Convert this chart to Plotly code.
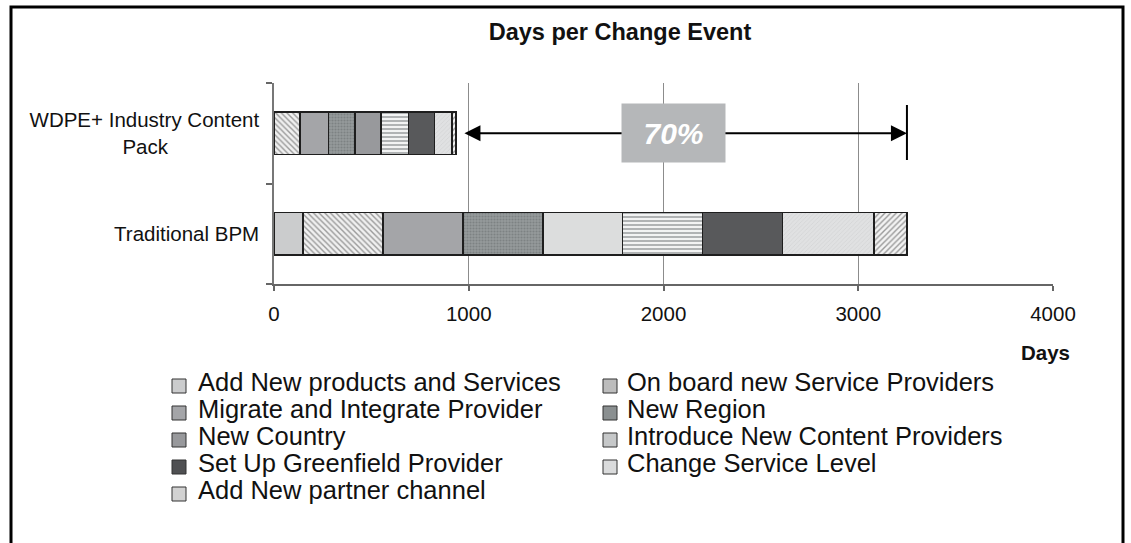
import plotly.graph_objects as go

# ---------------- data ----------------
categories = ["Traditional BPM", "WDPE+ Industry Content Pack"]
tick_labels = ["Traditional BPM", "WDPE+ Industry Content<br>Pack" + "\u00a0" * 16]

series_names = [
    "Add New products and Services",
    "On board new Service Providers",
    "Migrate and Integrate Provider",
    "New Region",
    "New Country",
    "Introduce New Content Providers",
    "Set Up Greenfield Provider",
    "Change Service Level",
    "Add New partner channel",
]
add_new_products = [150, 0]
on_board_providers = [410, 135]
migrate_integrate = [410, 145]
new_region = [410, 135]
new_country = [410, 135]
introduce_content = [410, 140]
greenfield_provider = [410, 135]
change_service_level = [470, 90]
add_partner_channel = [170, 20]
series_values = [add_new_products, on_board_providers, migrate_integrate, new_region,
                 new_country, introduce_content, greenfield_provider,
                 change_service_level, add_partner_channel]

x_ticks = [0, 1000, 2000, 3000, 4000]
reduction_label = "70%"
x_title = "Days"
chart_title = "Days per Change Event"

# ---------------- styles ----------------
W, H = 1131, 543
L, R, T, B = 274, 1053, 83, 284
FONT = "Liberation Sans, Arial, sans-serif"


def px(x):
    return (x - L) / (R - L)


def py(y):
    return (B - y) / (B - T)


styles = [
    dict(color="#cbcccd", shape="", fg="#cbcccd", size=6, sol=0.3),
    dict(color="#f0f0f0", shape="\\", fg="#9a9a9a", size=4, sol=0.35),
    dict(color="#a4a5a8", shape="", fg="#a4a5a8", size=6, sol=0.3),
    dict(color="#959a9b", shape=".", fg="#7d8283", size=3, sol=0.4),
    dict(color=["#dcdddd", "#98999c"], shape=["", ""], fg=["#dcdddd", "#98999c"], size=3, sol=0.2),
    dict(color="#f2f3f3", shape="-", fg="#a9acad", size=4, sol=0.45),
    dict(color="#58595b", shape="", fg="#58595b", size=6, sol=0.3),
    dict(color="#e0e1e2", shape="/", fg="#cfd0d1", size=3, sol=0.2),
    dict(color="#f3f3f3", shape="/", fg="#9a9a9a", size=4, sol=0.35),
]
swatch_colors = ["#cbcccd", "#bdbdbd", "#a4a5a8", "#8a8f90", "#98999c",
                 "#c6c8c9", "#4f5052", "#dadbdc", "#d2d2d2"]

fig = go.Figure()
for name, vals, st in zip(series_names, series_values, styles):
    fig.add_trace(go.Bar(
        y=categories, x=vals, name=name, orientation="h",
        marker=dict(
            color=st["color"],
            line=dict(color="#1e1e1e", width=1.6),
            pattern=dict(shape=st["shape"], fgcolor=st["fg"], bgcolor=st["color"],
                         size=st["size"], solidity=st["sol"], fillmode="replace"),
        ),
        showlegend=False,
    ))

total_trad = sum(v[0] for v in series_values)
total_wdpe = sum(v[1] for v in series_values)

annotations = []
shapes = []

# arrow between the two totals
annotations.append(dict(
    x=total_trad, y=categories[1], xref="x", yref="y",
    ax=total_wdpe + 35, ay=0, axref="x", ayref="pixel",
    text="", showarrow=True, arrowhead=2, startarrowhead=2, arrowside="end+start",
    arrowsize=1.6, startarrowsize=1.6, arrowwidth=2, arrowcolor="black",
    standoff=0, startstandoff=0,
))
# 70% box
annotations.append(dict(
    x=2050, y=categories[1], xref="x", yref="y", showarrow=False,
    text="<b><i>" + reduction_label + "</i></b>",
    font=dict(family=FONT, size=30, color="white"),
    bgcolor="#b5b7b9", width=103, height=58, borderpad=0,
    xanchor="center", yanchor="middle",
))
shapes.append(dict(type="line", xref="x", yref="paper", x0=total_trad, x1=total_trad,
                   y0=py(160), y1=py(105), line=dict(color="black", width=2)))

# axis title "Days"
annotations.append(dict(
    x=px(1072), y=py(352), xref="paper", yref="paper", showarrow=False,
    text="<b>" + x_title + "</b>", font=dict(family=FONT, size=20.5, color="#111"),
    xanchor="right", yanchor="middle",
))

# manual legend (two columns, Excel-like tight rows)
row_y = [382 + 27 * i for i in range(5)]
for i, (name, col) in enumerate(zip(series_names, swatch_colors)):
    c, r = i % 2, i // 2
    sx = 172 if c == 0 else 603
    tx = 196 if c == 0 else 625
    yc = row_y[r]
    shapes.append(dict(type="rect", xref="paper", yref="paper",
                       x0=px(sx), x1=px(sx + 14), y0=py(yc + 11), y1=py(yc - 3),
                       fillcolor=col, line=dict(color="#333", width=1)))
    annotations.append(dict(
        x=px(tx), y=py(yc), xref="paper", yref="paper", showarrow=False,
        text=name, font=dict(family=FONT, size=25.5, color="#111"),
        xanchor="left", yanchor="middle",
    ))

# outer frame
shapes.append(dict(type="rect", xref="paper", yref="paper",
                   x0=px(11), x1=px(1123), y0=py(570), y1=py(7),
                   line=dict(color="black", width=3), fillcolor="rgba(0,0,0,0)"))

fig.update_layout(
    width=W, height=H,
    margin=dict(l=L, r=W - R, t=T, b=H - B, pad=0),
    paper_bgcolor="white", plot_bgcolor="white",
    barmode="stack", bargap=0.58,
    font=dict(family=FONT, size=20.5, color="#111"),
    title=dict(text="<b>" + chart_title + "</b>", xref="paper", x=px(620), xanchor="center",
               yref="container", y=1 - 32 / H, yanchor="middle",
               font=dict(family=FONT, size=23.5, color="#111")),
    xaxis=dict(range=[0, 4000], tickvals=x_ticks, ticktext=[str(t) for t in x_ticks],
               showgrid=True, gridcolor="#8c8c8c", gridwidth=1, zeroline=False,
               showline=True, linecolor="#666", linewidth=1.5,
               ticks="outside", ticklen=5, tickcolor="#666", tickwidth=1.5,
               ticklabelstandoff=6),
    yaxis=dict(type="category", categoryorder="array", categoryarray=categories,
               tickmode="array", tickvals=categories, ticktext=tick_labels,
               tickson="boundaries", ticks="outside", ticklen=6, tickcolor="#666", tickwidth=1.5,
               showline=True, linecolor="#777", linewidth=1.5, showgrid=False,
               ticklabelstandoff=9),
    annotations=annotations, shapes=shapes,
)

fig.write_html("out.html", config={"displayModeBar": False},
               post_script="document.body.style.margin='0px';document.body.style.overflow='hidden';")
